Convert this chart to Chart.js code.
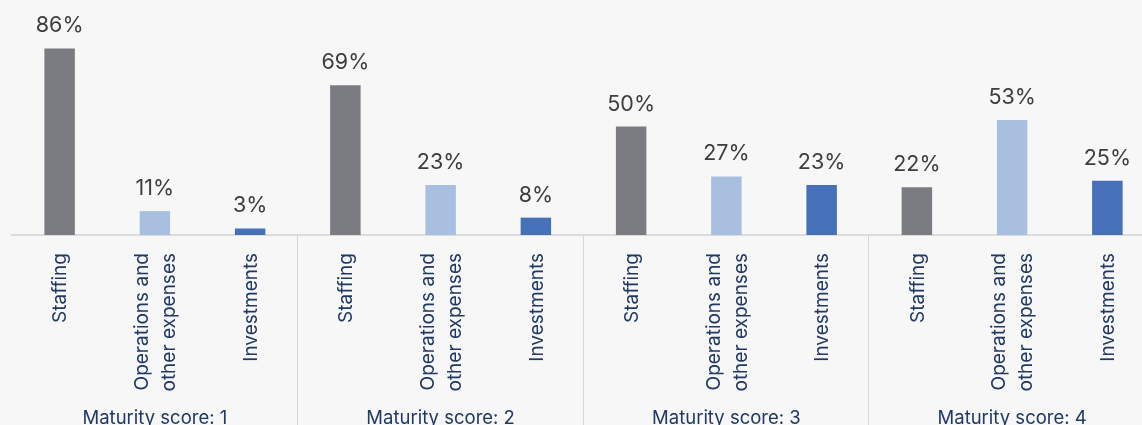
<!DOCTYPE html>
<html>
<head>
<meta charset="utf-8">
<script src="https://cdn.jsdelivr.net/npm/chart.js@4"></script>
<style>
  html, body { margin: 0; padding: 0; background: #f7f7f7; overflow: hidden; }
  #wrap { width: 1160px; height: 425px; }
</style>
</head>
<body>
<div id="wrap"><canvas id="spendChart" width="1160" height="425"></canvas></div>
<script>
// data
var groups = ['Maturity score: 1', 'Maturity score: 2', 'Maturity score: 3', 'Maturity score: 4'];
var items = ['Staffing', ['Operations and', 'other expenses'], 'Investments'];
var staffing = [86, 69, 50, 22];
var operations = [11, 23, 27, 53];
var investments = [3, 8, 23, 25];

var labels = [];
var values = [];
var colors = [];
var itemColors = ['#7b7c81', '#a9bfe0', '#4670b8'];
for (var g = 0; g < groups.length; g++) {
    var row = [staffing[g], operations[g], investments[g]];
    for (var k = 0; k < items.length; k++) {
        labels.push(items[k]);
        values.push(row[k]);
        colors.push(itemColors[k]);
    }
}

var groupPlugin = {
    id: 'groupPlugin',
    afterDatasetsDraw: function (chart) {
        var ctx = chart.ctx;
        var x = chart.scales.x;
        var meta = chart.getDatasetMeta(0);
        var bottom = chart.chartArea.bottom;
        ctx.save();
        // value labels above bars
        ctx.font = '21.5px Inter';
        ctx.fillStyle = '#3d3d3d';
        ctx.textAlign = 'center';
        ctx.textBaseline = 'alphabetic';
        meta.data.forEach(function (bar, i) {
            ctx.fillText(values[i] + '%', bar.x, bar.y - 16);
        });
        // category labels, rotated, centred on each bar
        ctx.font = '19px Inter';
        ctx.fillStyle = '#203864';
        ctx.textAlign = 'right';
        ctx.textBaseline = 'middle';
        labels.forEach(function (lab, i) {
            var lines = Array.isArray(lab) ? lab : [lab];
            var px = x.getPixelForValue(i);
            var lh = 27;
            lines.forEach(function (line, j) {
                var off = (j - (lines.length - 1) / 2) * lh;
                ctx.save();
                ctx.translate(px + off + 1, bottom + 18);
                ctx.rotate(-Math.PI / 2);
                ctx.fillText(line, 0, 0);
                ctx.restore();
            });
        });
        // group separators and names
        var half = (x.getPixelForValue(1) - x.getPixelForValue(0)) / 2;
        ctx.strokeStyle = '#d6d6d6';
        ctx.lineWidth = 1;
        for (var g = 1; g < groups.length; g++) {
            var sx = Math.round(x.getPixelForValue(g * 3) - half) - 0.5;
            ctx.beginPath();
            ctx.moveTo(sx, bottom);
            ctx.lineTo(sx, chart.height);
            ctx.stroke();
        }
        ctx.font = '18.5px Inter';
        ctx.textAlign = 'center';
        ctx.textBaseline = 'alphabetic';
        for (var g = 0; g < groups.length; g++) {
            var cx = x.getPixelForValue(g * 3 + 1);
            ctx.fillText(groups[g], cx, 424);
        }
        ctx.restore();
    }
};

new Chart(document.getElementById('spendChart'), {
    type: 'bar',
    data: {
        labels: labels,
        datasets: [{
            data: values,
            backgroundColor: colors,
            categoryPercentage: 1,
            barPercentage: 0.32
        }]
    },
    options: {
        responsive: false,
        animation: false,
        layout: { padding: { left: 12, right: 5, top: 18, bottom: 0 } },
        plugins: { legend: { display: false }, tooltip: { enabled: false } },
        scales: {
            y: { display: false, min: 0, max: 100 },
            x: {
                grid: { display: false, drawTicks: false },
                border: { display: true, color: '#dcdcdc', width: 2 },
                ticks: { display: false },
                afterFit: function (s) { s.height = 190; }
            }
        }
    },
    plugins: [groupPlugin]
});
</script>
</body>
</html>
